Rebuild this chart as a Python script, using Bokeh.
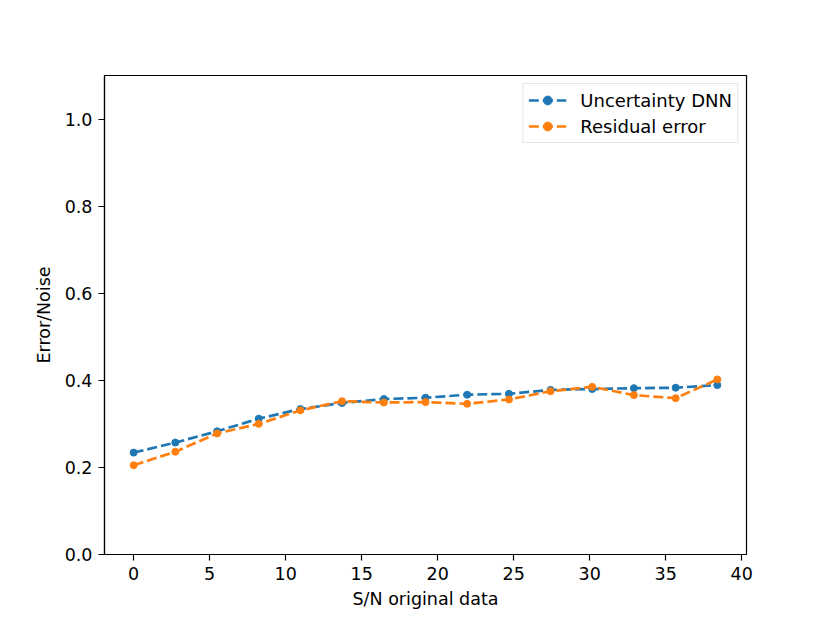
from bokeh.plotting import figure
from bokeh.models import Range1d, FixedTicker, PrintfTickFormatter, Legend, LegendItem
from bokeh.embed import file_html
from bokeh.resources import INLINE

# Data
sn = [0.0, 2.74, 5.49, 8.23, 10.97, 13.71, 16.46, 19.2, 21.94, 24.69, 27.43, 30.17, 32.91, 35.66, 38.4]
uncertainty_dnn = [0.234, 0.257, 0.283, 0.312, 0.334, 0.348, 0.357, 0.360, 0.367, 0.369, 0.378, 0.380, 0.382, 0.383, 0.389]
residual_error = [0.205, 0.236, 0.278, 0.300, 0.331, 0.352, 0.349, 0.350, 0.346, 0.356, 0.375, 0.385, 0.366, 0.359, 0.402]
x_ticks = [0, 5, 10, 15, 20, 25, 30, 35, 40]
y_ticks = [0.0, 0.2, 0.4, 0.6, 0.8, 1.0]

BLUE = "#1f77b4"
ORANGE = "#ff7f0e"
FONT = "DejaVu Sans"

p = figure(frame_width=642, frame_height=479, min_border_left=104, min_border_right=68,
           min_border_top=75, min_border_bottom=53,
           x_range=Range1d(-1.92, 40.32), y_range=Range1d(0, 1.1),
           output_backend="svg", toolbar_location=None)
p.background_fill_color = "white"
p.border_fill_color = "white"
p.outline_line_color = "black"
p.outline_line_width = 1.2
p.xgrid.visible = False
p.ygrid.visible = False

for ax in (p.xaxis[0], p.yaxis[0]):
    ax.axis_line_color = "black"
    ax.axis_line_width = 1.2
    ax.major_tick_line_color = "black"
    ax.major_tick_line_width = 1.2
    ax.major_tick_out = 6
    ax.major_tick_in = 0
    ax.minor_tick_line_color = None
    ax.major_label_text_font = FONT
    ax.major_label_text_font_size = "17.5px"
    ax.major_label_text_color = "black"
    ax.axis_label_text_font = FONT
    ax.axis_label_text_font_size = "17.5px"
    ax.axis_label_text_font_style = "normal"
    ax.axis_label_text_color = "black"

p.xaxis.ticker = FixedTicker(ticks=x_ticks)
p.yaxis.ticker = FixedTicker(ticks=y_ticks)
p.yaxis.formatter = PrintfTickFormatter(format="%.1f")
p.xaxis.axis_label = "S/N original data"
p.yaxis.axis_label = "Error/Noise"
p.xaxis.major_label_standoff = 6
p.yaxis.major_label_standoff = 6
p.xaxis.axis_label_standoff = 6
p.yaxis.axis_label_standoff = 8

l1 = p.line(sn, uncertainty_dnn, line_color=BLUE, line_width=2.7, line_dash="10 4")
c1 = p.scatter(sn, uncertainty_dnn, size=7, fill_color=BLUE, line_color=BLUE)
l2 = p.line(sn, residual_error, line_color=ORANGE, line_width=2.7, line_dash="10 4")
c2 = p.scatter(sn, residual_error, size=7, fill_color=ORANGE, line_color=ORANGE)

legend = Legend(items=[LegendItem(label="Uncertainty DNN", renderers=[l1, c1]),
                       LegendItem(label="Residual error", renderers=[l2, c2])],
                location="top_right")
legend.margin = 8
legend.padding = 5
legend.spacing = 4
legend.glyph_width = 38
legend.glyph_height = 22
legend.label_height = 22
legend.label_text_font = FONT
legend.label_text_font_size = "18px"
legend.label_text_color = "black"
legend.label_standoff = 14
legend.border_line_color = "#cccccc"
legend.border_line_width = 1
legend.background_fill_alpha = 0.8
p.add_layout(legend)

open("out.html", "w").write(file_html(p, INLINE))
